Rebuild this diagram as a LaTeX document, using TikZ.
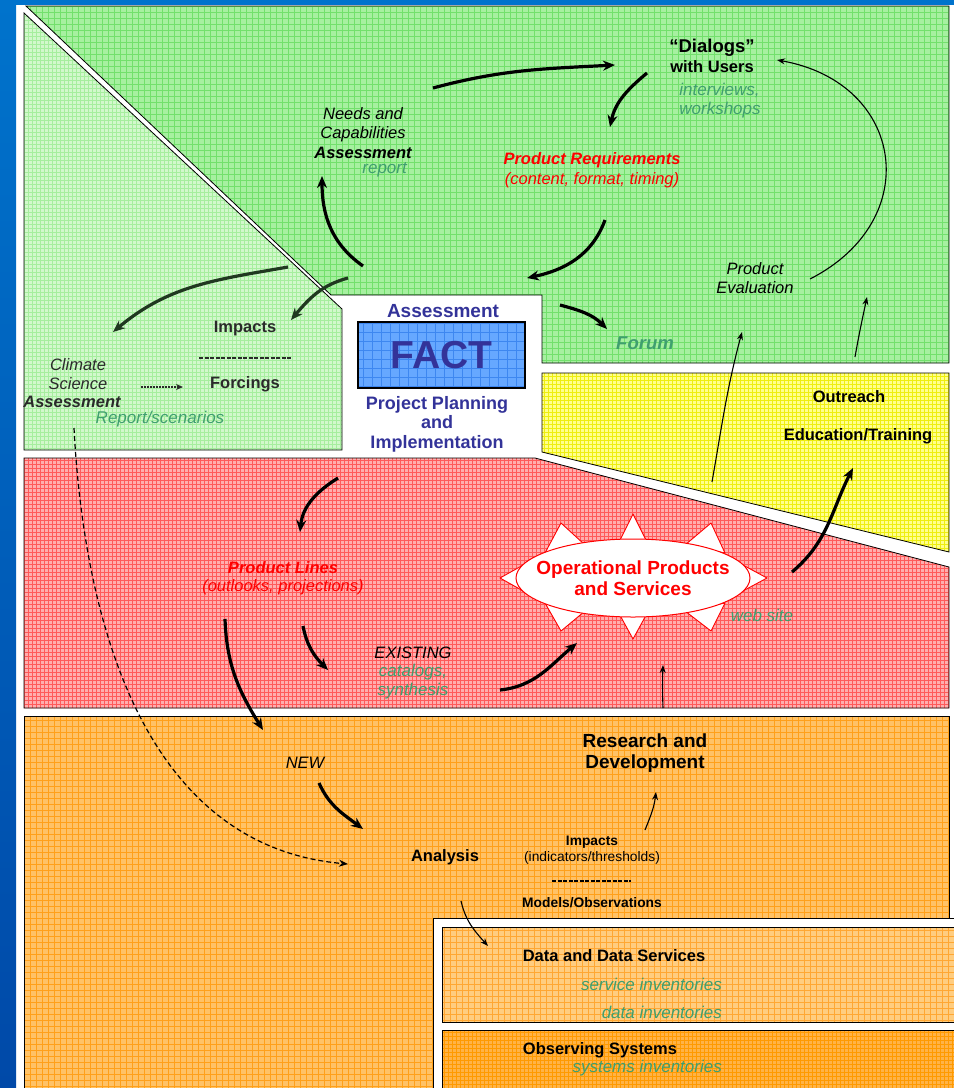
\documentclass[tikz,border=0pt]{standalone}
\usepackage{fontspec}
\setmainfont{Liberation Sans}
\usetikzlibrary{arrows.meta,shapes.geometric}
\definecolor{bluetop}{HTML}{0073CC}
\definecolor{bluebot}{HTML}{0049A8}
\definecolor{txtgreen}{HTML}{3F9F6F}
\definecolor{txtblue}{HTML}{333399}
\definecolor{darktxt}{HTML}{2A2A2A}
\definecolor{darkarrow}{HTML}{203820}
\definecolor{dkgreenfill}{HTML}{A6F0A0}
\definecolor{dkgreengrid}{HTML}{72E06C}
\definecolor{ltgreenfill}{HTML}{D2F8CC}
\definecolor{ltgreengrid}{HTML}{A6EE9E}
\definecolor{redfill}{HTML}{FFAEAE}
\definecolor{redgrid}{HTML}{FF5A5A}
\definecolor{yellowfill}{HTML}{FFFF8C}
\definecolor{yellowgrid}{HTML}{EEEE10}
\definecolor{orangefill}{HTML}{FFC266}
\definecolor{orangegrid}{HTML}{FFA01A}
\definecolor{datafill}{HTML}{FFCD80}
\definecolor{datagrid}{HTML}{FFA733}
\definecolor{obsfill}{HTML}{FFB347}
\definecolor{obsgrid}{HTML}{FF9A00}
\definecolor{factfill}{HTML}{66A8FF}
\definecolor{factgrid}{HTML}{3D87F0}
\tikzset{
  zone/.style n args={3}{fill=#1, draw=black, line width=0.8pt,
    path picture={\draw[#2, line width=0.6pt, step=#3]
      (path picture bounding box.south west) grid (path picture bounding box.north east);}},
  lbl/.style={inner sep=0pt, align=center, font=\fontsize{16.5}{19}\selectfont},
  itlbl/.style={lbl, font=\fontsize{16.5}{19}\selectfont\itshape},
  bflbl/.style={lbl, font=\fontsize{16.5}{19}\selectfont\bfseries},
  bilbl/.style={lbl, font=\fontsize{16.5}{19}\selectfont\bfseries\itshape},
  greenlbl/.style={lbl, text=txtgreen, font=\fontsize{17}{19}\selectfont\itshape},
  smalllbl/.style={inner sep=0pt, align=center, font=\fontsize{13.8}{16}\selectfont},
  factbox/.style={draw=black, line width=1.6pt, fill=factfill, minimum width=167pt,
    minimum height=66pt, text=txtblue, font=\fontsize{39}{40}\selectfont\bfseries,
    path picture={\draw[factgrid, line width=0.7pt, step=9pt]
      (path picture bounding box.south west) grid (path picture bounding box.north east);}},
  opsellipse/.style={ellipse, draw=red, line width=1pt, fill=white, inner sep=0pt,
    minimum width=234pt, minimum height=78pt},
  spike/.style={draw=red, fill=white, line width=0.9pt, line join=round},
  bigarrow/.style={line width=3.2pt, -{Stealth[length=12pt,width=10pt]}},
  darkbigarrow/.style={bigarrow, darkarrow},
  thinarrow/.style={line width=1.1pt, -{Stealth[length=8pt,width=6pt]}},
  sepline/.style={line width=2pt, dash pattern=on 4pt off 1.5pt},
}
\begin{document}
\begin{tikzpicture}[x=1pt,y=-1pt]
\useasboundingbox (0,0) rectangle (954,1088);
\clip (0,0) rectangle (954,1088);
\fill[white] (0,0) rectangle (954,1088);
\shade[top color=bluetop, bottom color=bluebot] (0,0) rectangle (16,1088);
\fill[bluetop] (0,0) rectangle (954,5);

% regions
\path[zone={dkgreenfill}{dkgreengrid}{6pt}] (26,6) -- (949,6) -- (949,363) -- (542,363)
  -- (542,295) -- (331,295) -- cycle;
\path[zone={ltgreenfill}{ltgreengrid}{4pt}] (24,13) -- (342,309) -- (342,450) -- (24,450) -- cycle;
\path[zone={yellowfill}{yellowgrid}{4pt}] (542,373) -- (949,373) -- (949,552) -- (542,452) -- cycle;
\path[zone={redfill}{redgrid}{4pt}] (24,458) -- (535,458) -- (949,567) -- (949,708) -- (24,708) -- cycle;
\path[zone={orangefill}{orangegrid}{6pt}] (24,716) -- (949,716) -- (949,918) -- (433,918)
  -- (433,1095) -- (24,1095) -- cycle;
\draw[fill=white, line width=0.8pt] (433,918) rectangle (960,1095);
\path[zone={datafill}{datagrid}{6pt}] (442,927) rectangle (960,1022);
\path[zone={obsfill}{obsgrid}{4pt}] (442,1030) rectangle (960,1095);

% texts
\node[bflbl, font=\fontsize{18.5}{21}\selectfont\bfseries] (dialogs) at (712,48) {“Dialogs”};
\node[bflbl] (users) at (712,67) {with Users};
\node[greenlbl, align=left] (interviews) at (720,101) {interviews,\\workshops};
\node[itlbl] (needs) at (363,125) {Needs and\\Capabilities};
\node[bilbl] (needsassess) at (363,153) {Assessment};
\node[greenlbl, anchor=east] (report) at (407,170) {report};
\node[bilbl, text=red] (prodreq) at (592,160) {Product Requirements};
\node[itlbl, text=red] (reqdetail) at (592,180) {(content, format, timing)};
\node[itlbl] (prodeval) at (755,278) {Product\\Evaluation};
\node[bflbl, text=darktxt] (impacts) at (245,329) {Impacts};
\node[bflbl, text=darktxt] (forcings) at (245,384) {Forcings};
\node[itlbl, text=darktxt] (climate) at (78,374) {Climate\\Science};
\node[bilbl, text=darktxt] (climassess) at (72,402) {Assessment};
\node[greenlbl] (scenarios) at (160,419) {Report/scenarios};
\node[bflbl, text=txtblue, font=\fontsize{19}{21}\selectfont\bfseries] (assess) at (443,311) {Assessment};
\node[factbox] (fact) at (441.5,355) {FACT};
\node[bflbl, text=txtblue, font=\fontsize{18}{19.5}\selectfont\bfseries] (planning) at (437,424)
  {Project Planning\\and\\Implementation};
\node[bilbl, text=txtgreen, font=\fontsize{18.5}{21}\selectfont\bfseries\itshape] (forum) at (645,343) {Forum};
\node[bflbl] (outreach) at (849,397) {Outreach};
\node[bflbl] (education) at (858,436) {Education/Training};
\node[bilbl, text=red] (lines) at (283,568) {Product Lines};
\node[itlbl, text=red] (linesdetail) at (283,587) {(outlooks, projections)};

\coordinate (opsc) at (633,578);
\begin{scope}[shift={(opsc)}]
  \foreach \tx/\ty/\ax/\ay/\bx/\by in {0/-64/-17/-30/17/-30, 0/61/-17/30/17/30,
      -133/0/-108/-14/-108/14, 134/0/108/-14/108/14, -72/-55/-88/-25/-48/-33,
      78/-55/52/-33/92/-25, -72/53/-88/25/-48/33, 78/53/52/33/92/25}
    \draw[spike] (\ax,\ay) -- (\tx,\ty) -- (\bx,\by) -- cycle;
\end{scope}
\node[opsellipse] (ops) at (opsc) {};
\node[bflbl, text=red, font=\fontsize{19}{21}\selectfont\bfseries] (opstext) at (opsc)
  {Operational Products\\and Services};

\node[greenlbl] (website) at (762,615) {web site};
\node[itlbl] (existing) at (413,653) {EXISTING};
\node[greenlbl] (catalogs) at (413,682) {catalogs,\\synthesis};
\node[itlbl] (new) at (305,763) {NEW};
\node[bflbl, font=\fontsize{19}{21.5}\selectfont\bfseries] (research) at (645,753) {Research and\\Development};
\node[bflbl] (analysis) at (445,857) {Analysis};
\node[smalllbl, font=\fontsize{13.8}{16}\selectfont\bfseries] (impactsind) at (592,842) {Impacts};
\node[smalllbl] (indicators) at (592,858) {(indicators/thresholds)};
\node[smalllbl, font=\fontsize{13.8}{16}\selectfont\bfseries] (models) at (592,903) {Models/Observations};
\node[bflbl] (dataserv) at (614,956) {Data and Data Services};
\node[greenlbl, anchor=east] (serviceinv) at (722,984) {service inventories};
\node[greenlbl, anchor=east] (datainv) at (722,1012) {data inventories};
\node[bflbl] (observing) at (600,1050) {Observing Systems};
\node[greenlbl, anchor=east] (sysinv) at (722,1068) {systems inventories};

\coordinate (sepa) at (199,358);
\coordinate (sepb) at (292,358);
\draw[sepline, darktxt] (sepa) -- (sepb);
\coordinate (sepc) at (552,881);
\coordinate (sepd) at (631,881);
\draw[sepline, line width=1.8pt] (sepc) -- (sepd);

% arrow ends
\coordinate (needsR) at (433,88);      \coordinate (dialogsL) at (615,65);
\coordinate (dialogsB) at (647,73);    \coordinate (reqT) at (610,127);
\coordinate (reqB) at (605,220);       \coordinate (centreT) at (527,278);
\coordinate (evalR) at (810,279);      \coordinate (usersR) at (777,60);
\coordinate (centreL) at (363,266);    \coordinate (needsB) at (322,176);
\coordinate (centreL2) at (348,278);   \coordinate (impactsT) at (291,320);
\coordinate (sciT0) at (288,267);      \coordinate (climateT) at (113,332);
\coordinate (forumL) at (560,305);     \coordinate (forumT) at (607,329);
\coordinate (climateR) at (141,387);   \coordinate (forcingsL) at (183,387);
\coordinate (yellowB) at (712,482);    \coordinate (evalB) at (742,332);
\coordinate (outreachT) at (855,357);  \coordinate (greenB) at (867,297);
\coordinate (opsR) at (792,572);       \coordinate (educationB) at (853,468);
\coordinate (linesT0) at (338,478);    \coordinate (linesT) at (300,532);
\coordinate (linesB) at (303,626);     \coordinate (existingL) at (328,670);
\coordinate (linesB2) at (225,619);    \coordinate (newT) at (263,730);
\coordinate (catalogsR) at (500,690);  \coordinate (opsB) at (577,643);
\coordinate (orangeT) at (663,708);    \coordinate (opsB2) at (663,665);
\coordinate (newB) at (319,783);       \coordinate (analysisL) at (363,829);
\coordinate (climateB) at (74,428);    \coordinate (analysisL2) at (348,864);
\coordinate (impactsT2) at (645,830);  \coordinate (researchB) at (656,792);
\coordinate (analysisB) at (461,901);  \coordinate (dataT) at (488,946);

\draw[bigarrow] (needsR) to[out=15,in=183] (dialogsL);
\draw[bigarrow] (dialogsB) to[out=220,in=78] (reqT);
\draw[bigarrow] (reqB) to[out=250,in=12] (centreT);
\draw[thinarrow] (evalR) to[out=27,in=-10,looseness=1.5] (usersR);
\draw[bigarrow] (centreL) to[out=145,in=270] (needsB);
\draw[darkbigarrow] (centreL2) to[out=195,in=50] (impactsT);
\draw[darkbigarrow] (sciT0) to[out=190,in=40] (climateT);
\draw[bigarrow] (forumL) to[out=-15,in=135] (forumT);
\draw[line width=1.5pt, dash pattern=on 2pt off 1pt, -{Stealth[length=7pt,width=6pt]}, darktxt]
  (climateR) -- (forcingsL);
\draw[thinarrow] (yellowB) to[out=80,in=255] (evalB);
\draw[thinarrow] (outreachT) to[out=80,in=258] (greenB);
\draw[bigarrow] (opsR) to[out=40,in=243] (educationB);
\draw[bigarrow] (linesT0) to[out=212,in=84] (linesT);
\draw[bigarrow] (linesB) to[out=-79,in=135] (existingL);
\draw[bigarrow] (linesB2) to[out=-88,in=122] (newT);
\draw[bigarrow] (catalogsR) to[out=6,in=220] (opsB);
\draw[thinarrow] (orangeT) to[out=92,in=268] (opsB2);
\draw[bigarrow] (newB) to[out=-66,in=143] (analysisL);
\draw[line width=1.2pt, dash pattern=on 5pt off 3pt, -{Stealth[length=9pt,width=7pt]}]
  (climateB) to[out=-87,in=175] (analysisL2);
\draw[thinarrow] (impactsT2) to[out=68,in=263] (researchB);
\draw[thinarrow] (analysisB) to[out=-77,in=132] (dataT);
\end{tikzpicture}
\end{document}
